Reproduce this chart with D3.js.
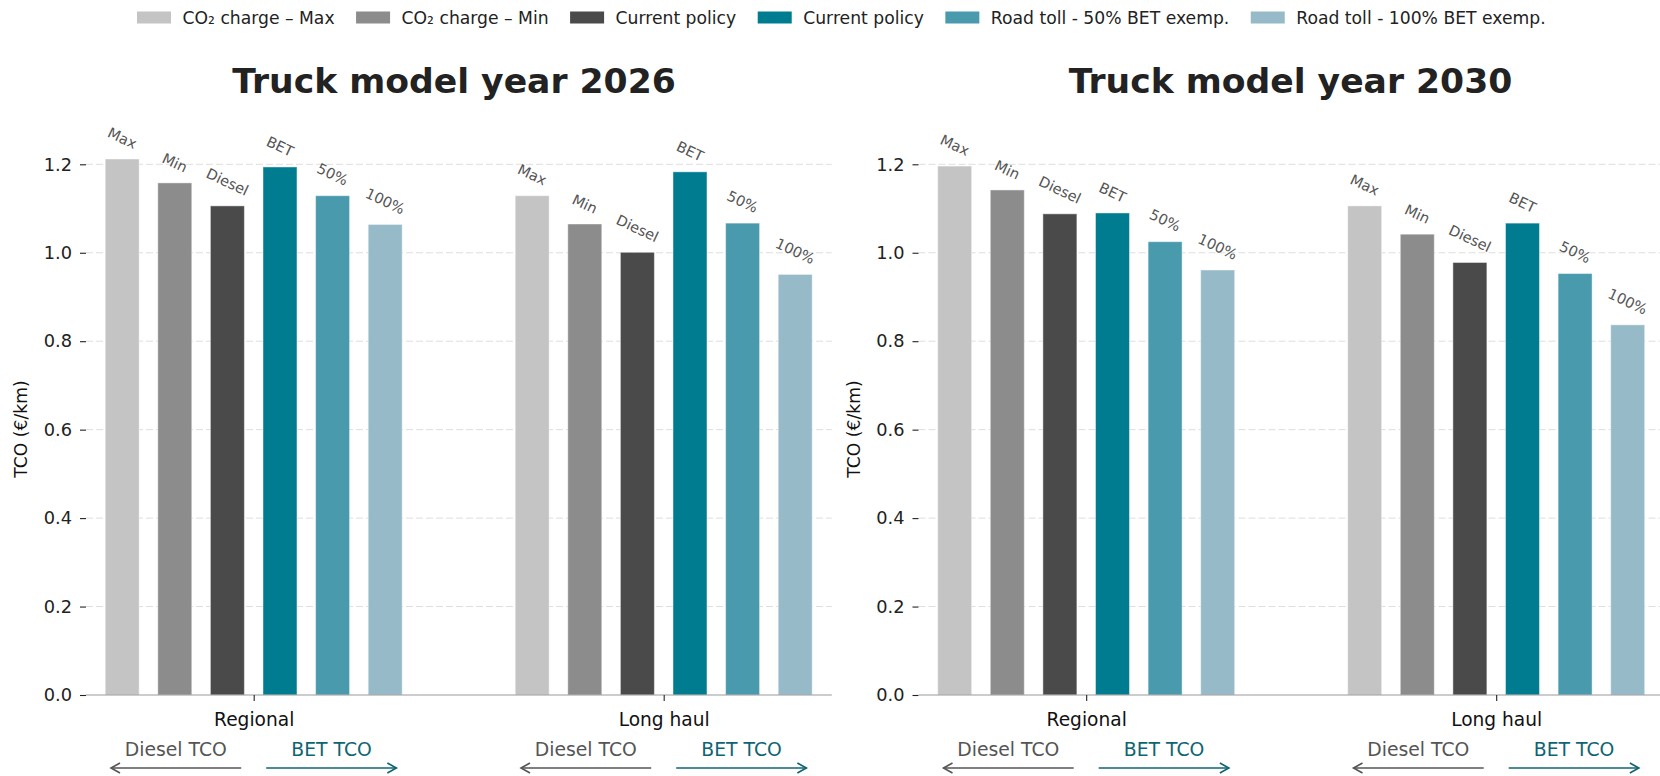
<!DOCTYPE html>
<html><head><meta charset="utf-8">
<script src="https://cdn.jsdelivr.net/npm/d3@7"></script>
<style>
html,body{margin:0;padding:0;background:#fff;}
text{font-family:"DejaVu Sans",sans-serif;}
</style></head>
<body>
<svg id="chart" width="1660" height="776"></svg>
<script>
// ---------------- data ----------------
const categories = ["Regional", "Long haul"];
const seriesNames = ["CO\u2082 charge \u2013 Max", "CO\u2082 charge \u2013 Min", "Current policy", "Current policy", "Road toll - 50% BET exemp.", "Road toll - 100% BET exemp."];
const barLabels = ["Max", "Min", "Diesel", "BET", "50%", "100%"];
const seriesColors = ["#c4c4c4", "#8c8c8c", "#4a4a4a", "#007c91", "#4a9aad", "#96bac8"];
const panelTitles = ["Truck model year 2026", "Truck model year 2030"];
const values2026Regional = [1.212, 1.158, 1.106, 1.194, 1.129, 1.064];
const values2026LongHaul = [1.129, 1.065, 1.001, 1.183, 1.067, 0.951];
const values2030Regional = [1.196, 1.142, 1.088, 1.090, 1.025, 0.961];
const values2030LongHaul = [1.106, 1.042, 0.978, 1.067, 0.953, 0.837];
const yTicks = [0.0, 0.2, 0.4, 0.6, 0.8, 1.0, 1.2];
const yLabel = "TCO (\u20ac/km)";
const arrowTexts = ["Diesel TCO", "BET TCO"];

const panels = [
  {title: panelTitles[0], data: [values2026Regional, values2026LongHaul]},
  {title: panelTitles[1], data: [values2030Regional, values2030LongHaul]}
];

// ---------------- layout ----------------
const svg = d3.select("#chart");
svg.append("rect").attr("width",1660).attr("height",776).attr("fill","#fff");

const yBottom = 695, pxPerUnit = 442.25;
const y = d3.scaleLinear().domain([0, 1.3]).range([yBottom, yBottom - 1.3*pxPerUnit]);
const xDomain = [-0.409, 1.41];
const panelLefts = [86, 918.5];
const unitPx = 410;
const barStep = 0.1283, barWidth = 0.0829;
const titleX = [454, 1290.5];

const gridCol = "#dedede";
const tealDark = "#0f6473";

panels.forEach((p, pi) => {
  const left = panelLefts[pi];
  const right = left + (xDomain[1]-xDomain[0])*unitPx;
  const x = d3.scaleLinear().domain(xDomain).range([left, right]);
  const g = svg.append("g");

  // grid
  g.append("g").selectAll("line").data(yTicks.filter(t => t > 0)).join("line")
    .attr("x1", left).attr("x2", right)
    .attr("y1", d => y(d)).attr("y2", d => y(d))
    .attr("stroke", gridCol).attr("stroke-width", 1).attr("stroke-dasharray", "7,3");

  // y axis (ticks + labels only, no spine)
  const yAxis = d3.axisLeft(y).tickValues(yTicks).tickFormat(d3.format(".1f")).tickSize(6).tickPadding(8);
  const ya = g.append("g").attr("transform", `translate(${left},0)`).call(yAxis);
  ya.select(".domain").remove();
  ya.selectAll("line").attr("stroke", "#222").attr("stroke-width", 1.1);
  ya.selectAll("text").attr("font-size", "17.8px").attr("fill", "#222").attr("font-family", "DejaVu Sans");

  // bars
  p.data.forEach((vals, ci) => {
    const bg = g.append("g");
    bg.selectAll("rect").data(vals).join("rect")
      .attr("x", (d, si) => x(ci + (si - 2.5)*barStep - barWidth/2))
      .attr("width", barWidth*unitPx)
      .attr("y", d => y(d))
      .attr("height", d => y(0) - y(d))
      .attr("fill", (d, si) => seriesColors[si])
      .attr("stroke", "#ffffff").attr("stroke-opacity", 0.45).attr("stroke-width", 1);

    // rotated labels
    const theta = 25*Math.PI/180;
    vals.forEach((v, si) => {
      const cx = x(ci + (si - 2.5)*barStep);
      const t = bg.append("text").text(barLabels[si])
        .attr("font-size", "14.5px").attr("fill", "#555")
        .attr("text-anchor", "middle").attr("dominant-baseline", "central");
      const w = t.node().getComputedTextLength();
      const h = 14.5*1.17;
      const half = (w*Math.sin(theta) + h*Math.cos(theta))/2;
      const cy = y(v) - 6.8 - half;
      t.attr("x", cx).attr("y", cy).attr("transform", `rotate(25,${cx},${cy})`);
    });
  });

  // bottom spine
  g.append("line").attr("x1", left).attr("x2", right).attr("y1", y(0)).attr("y2", y(0))
    .attr("stroke", "#999").attr("stroke-width", 1.1);

  // category ticks + labels
  const xa = d3.axisBottom(x).tickValues([0, 1]).tickFormat(d => categories[d]).tickSize(6).tickPadding(12);
  const xg = g.append("g").attr("transform", `translate(0,${y(0)})`).call(xa);
  xg.select(".domain").remove();
  xg.selectAll("line").attr("stroke", "#222").attr("stroke-width", 1.1);
  xg.selectAll("text").attr("font-size", "18.6px").attr("fill", "#111").attr("font-family", "DejaVu Sans");

  // arrows under each category
  categories.forEach((c, ci) => {
    const cols = ["#555555", tealDark];
    [-1, 1].forEach((dir, k) => {
      g.append("text").text(arrowTexts[k])
        .attr("x", x(ci + dir*0.19)).attr("y", 756)
        .attr("text-anchor", "middle").attr("font-size", "18.8px")
        .attr("fill", cols[k]);
      const x0 = x(ci + dir*0.0305), x1 = x(ci + dir*0.348);
      const ay = 768;
      g.append("line").attr("x1", x0).attr("x2", x1).attr("y1", ay).attr("y2", ay)
        .attr("stroke", cols[k]).attr("stroke-width", 1.6);
      g.append("path")
        .attr("d", `M${x1 - dir*9},${ay-5}L${x1},${ay}L${x1 - dir*9},${ay+5}`)
        .attr("fill", "none").attr("stroke", cols[k]).attr("stroke-width", 1.6);
    });
  });

  // y label
  g.append("text").text(yLabel)
    .attr("transform", `translate(${left-65},429) rotate(-90)`)
    .attr("text-anchor", "middle").attr("dominant-baseline", "central")
    .attr("font-size", "17.2px").attr("fill", "#111");

  // title
  g.append("text").text(p.title)
    .attr("x", titleX[pi]).attr("y", 93)
    .attr("text-anchor", "middle").attr("font-size", "34.6px").attr("font-weight", "bold")
    .attr("fill", "#222");
});

// ---------------- legend ----------------
const leg = svg.append("g");
let lx = 137;
seriesNames.forEach((name, i) => {
  leg.append("rect").attr("x", lx).attr("y", 11.5).attr("width", 34).attr("height", 12)
    .attr("fill", seriesColors[i]);
  const t = leg.append("text").text(name).attr("x", lx + 34 + 11.5).attr("y", 24.2)
    .attr("font-size", "17.2px").attr("fill", "#222");
  lx = lx + 34 + 11.5 + t.node().getComputedTextLength() + 21.5;
});
</script>
</body></html>
